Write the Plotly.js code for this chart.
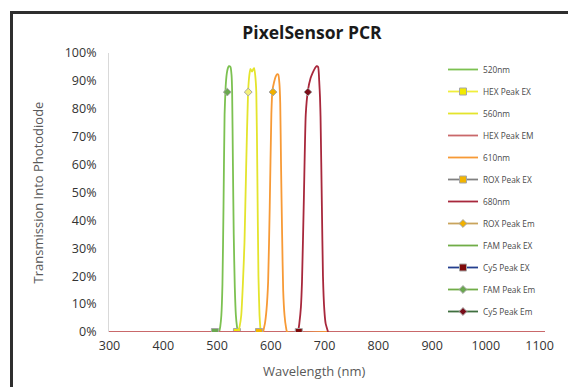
<!DOCTYPE html>
<html>
<head>
<meta charset="utf-8">
<script src="https://cdn.plot.ly/plotly-3.0.1.min.js"></script>
<style>html,body{margin:0;padding:0;background:#fff;}#chart{width:568px;height:387px;}</style>
</head>
<body>
<div id="chart"></div>
<script>
// ---- data (wavelength in nm, transmission as fraction) ----
const greenX  = [504, 506, 508, 510, 512, 514, 516, 518, 520, 522, 525, 527, 528, 529.5, 531, 533, 535, 537, 539];
const greenY  = [0, 0.02, 0.06, 0.17, 0.45, 0.78, 0.88, 0.925, 0.945, 0.953, 0.95, 0.92, 0.867, 0.60, 0.35, 0.16, 0.06, 0.02, 0];
const yellowX = [539, 542, 545, 548, 551, 554, 557.7, 560, 562, 565, 567.5, 569, 571, 573, 575, 577, 579, 581];
const yellowY = [0, 0.02, 0.06, 0.17, 0.32, 0.58, 0.86, 0.92, 0.943, 0.933, 0.943, 0.946, 0.92, 0.86, 0.55, 0.20, 0.06, 0];
const orangeX = [585.6, 589, 592, 595, 598, 601, 603, 606, 609, 612, 614, 616, 617.5, 619, 621, 623, 625.5, 628, 630.5, 706];
const orangeY = [0, 0.03, 0.08, 0.18, 0.45, 0.78, 0.865, 0.895, 0.915, 0.924, 0.922, 0.89, 0.82, 0.60, 0.35, 0.15, 0.06, 0.02, 0, 0];
const redX    = [650.7, 653, 656, 658, 661.5, 665, 669, 674, 678, 682, 685, 688, 690, 691.5, 692.5, 695, 697, 699.5, 702, 706.5];
const redY    = [0, 0.03, 0.09, 0.18, 0.48, 0.78, 0.865, 0.91, 0.93, 0.945, 0.953, 0.95, 0.90, 0.84, 0.77, 0.45, 0.20, 0.08, 0.03, 0];
const baseX   = [299, 1110];
const baseY   = [0, 0];
// peak excitation (on baseline) and emission markers
const famExX = [496], famExY = [0];
const hexExX = [537], hexExY = [0];
const roxExX = [578], roxExY = [0];
const cy5ExX = [652], cy5ExY = [0];
const famEmX = [519], famEmY = [0.86];
const hexEmX = [558], hexEmY = [0.86];
const roxEmX = [604], roxEmY = [0.86];
const cy5EmX = [669], cy5EmY = [0.86];
const xTicks = [300, 400, 500, 600, 700, 800, 900, 1000, 1100];
const yTicks = [0, 0.1, 0.2, 0.3, 0.4, 0.5, 0.6, 0.7, 0.8, 0.9, 1.0];

const W = 568, H = 387;
const M = {l: 109, r: 23, t: 53, b: 55};
const pw = W - M.l - M.r, ph = H - M.t - M.b;
const px2x = p => (p - M.l) / pw;
const py2y = p => (H - M.b - p) / ph;

const FONT = '"Open Sans", "Noto Sans", sans-serif';
const sq = (c) => ({symbol: 'square', size: 7, color: c, line: {color: '#a6a6a6', width: 1}});
const dm = (c) => ({symbol: 'diamond', size: 6, color: c, line: {color: '#a6a6a6', width: 1}});
const curve = (name, x, y, color) => ({type: 'scatter', mode: 'lines', name, x, y, legendgroup: name,
  line: {color, width: 1.8, shape: 'spline', smoothing: 0.5}, hoverinfo: 'skip'});
const point = (name, x, y, lineColor, marker) => {
  const t = {type: 'scatter', mode: marker ? 'lines+markers' : 'lines', name, x, y, legendgroup: name,
             line: {color: lineColor, width: 1.8}, hoverinfo: 'skip'};
  if (marker) t.marker = marker;
  return t;
};

const traces = [
  curve('520nm', greenX, greenY, '#7cc151'),
  point('HEX Peak EX', hexExX, hexExY, '#f0ee3c', sq('#f2ea00')),
  curve('560nm', yellowX, yellowY, '#e4e42c'),
  {type: 'scatter', mode: 'lines', name: 'HEX Peak EM', x: baseX, y: baseY, legendgroup: 'HEX Peak EM',
   line: {color: '#c9686a', width: 1.8}, hoverinfo: 'skip'},
  curve('610nm', orangeX, orangeY, '#f79a36'),
  point('ROX Peak EX', roxExX, roxExY, '#808080', sq('#f2b400')),
  curve('680nm', redX, redY, '#a8283c'),
  point('ROX Peak Em', roxEmX, roxEmY, '#c9a45c', dm('#f0b000')),
  point('FAM Peak EX', famExX, famExY, '#70ad47', null),
  point('Cy5 Peak EX', cy5ExX, cy5ExY, '#243f8f', sq('#7f0a0a')),
  point('FAM Peak Em', famEmX, famEmY, '#70ad47', dm('#6aa84f')),
  point('Cy5 Peak Em', cy5EmX, cy5EmY, '#3f6f3f', dm('#7a0e1a')),
  {type: 'scatter', mode: 'markers', x: famExX, y: famExY, showlegend: false, marker: sq('#6aa84f'), hoverinfo: 'skip'},
  {type: 'scatter', mode: 'markers', x: hexEmX, y: hexEmY, showlegend: false, marker: dm('#f4f07a'), hoverinfo: 'skip'}
];

const layout = {
  width: W, height: H,
  margin: M,
  paper_bgcolor: '#ffffff', plot_bgcolor: '#ffffff',
  font: {family: FONT, color: '#404040'},
  title: {text: '<b>PixelSensor PCR</b>', font: {family: FONT, size: 17.5, color: '#1a1a1a'},
          x: px2x(312), xref: 'paper', xanchor: 'center', y: 1 - 33 / H, yanchor: 'middle'},
  xaxis: {range: [299, 1110], tickvals: xTicks, ticktext: xTicks.map(String), showgrid: false, zeroline: false,
          showline: false, ticks: '', tickfont: {family: FONT, size: 12.5, color: '#333333'}, ticklabelstandoff: 4},
  yaxis: {range: [0, 1], tickvals: yTicks, tickformat: '.0%', showgrid: false, zeroline: false,
          showline: true, linecolor: '#d9d9d9', linewidth: 1, ticks: '',
          tickfont: {family: FONT, size: 12.5, color: '#333333'}, ticklabelstandoff: 9,
          title: {text: 'Transmission Into Photodiode', font: {family: FONT, size: 13, color: '#595959'}, standoff: 18}},
  legend: {x: px2x(443), xref: 'paper', xanchor: 'left', y: py2y(55), yref: 'paper', yanchor: 'top',
           font: {family: FONT, size: 8.3, color: '#4a4a4a'}, bgcolor: 'rgba(0,0,0,0)', tracegroupgap: 3,
           itemwidth: 30, traceorder: 'grouped'},
  annotations: [
    {text: 'Wavelength (nm)', xref: 'paper', yref: 'paper', x: px2x(314), y: py2y(371), xanchor: 'center', yanchor: 'middle',
     showarrow: false, font: {family: FONT, size: 13, color: '#595959'}}
  ],
  shapes: [
    {type: 'line', xref: 'paper', yref: 'paper', x0: px2x(11.5), x1: px2x(11.5), y0: py2y(11), y1: py2y(H + 2),
     line: {color: '#2e2e2e', width: 3}},
    {type: 'line', xref: 'paper', yref: 'paper', x0: px2x(10), x1: px2x(W + 2), y0: py2y(12.5), y1: py2y(12.5),
     line: {color: '#2e2e2e', width: 3}}
  ],
  showlegend: true
};

Plotly.newPlot('chart', traces, layout, {staticPlot: true, displayModeBar: false});
</script>
</body>
</html>
